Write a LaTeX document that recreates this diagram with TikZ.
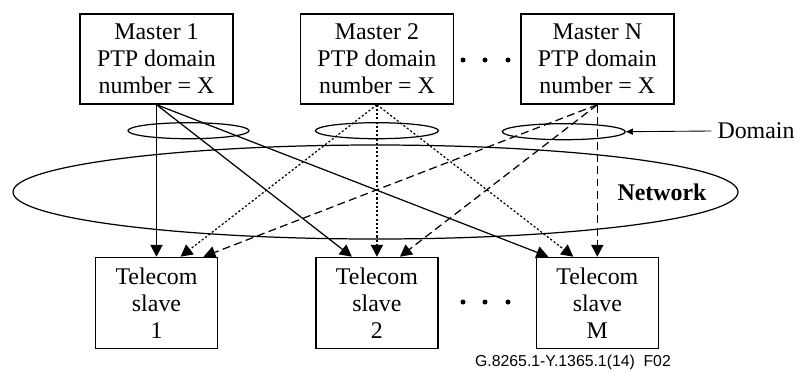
\documentclass[tikz,border=0pt]{standalone}
\usepackage{fontspec}
\setmainfont{Liberation Serif}
\newfontfamily\figfont{Liberation Sans}
\usetikzlibrary{shapes.geometric,positioning,arrows.meta}

\tikzset{
    box/.style={draw, line width=0.8pt, align=center, inner sep=0pt,
        font=\fontsize{13.6}{15.4}\selectfont},
    master/.style={box, minimum width=3.06cm, minimum height=1.8cm},
    slave/.style={box, minimum width=2.44cm, minimum height=1.82cm},
    domring/.style={draw, ellipse, line width=0.7pt, inner sep=0pt,
        minimum width=2.46cm, minimum height=0.32cm},
    link/.style={line width=0.7pt, -{Triangle[length=6.8pt,width=7pt]}},
    dotlink/.style={link, dash pattern=on 1.2pt off 1.2pt},
    dashlink/.style={link, dash pattern=on 4.5pt off 2.5pt},
    lbl/.style={font=\fontsize{13.6}{15.4}\selectfont}
}

\begin{document}
\begin{tikzpicture}
    \useasboundingbox (0,0) rectangle (15.96,-7.38);

    % masters and slaves
    \node[master] (m1) at (3.13,-1.18) {Master 1\\PTP domain\\number = X};
    \node[master, right=1.32cm of m1] (m2) {Master 2\\PTP domain\\number = X};
    \node[master, right=1.32cm of m2] (mN) {Master N\\PTP domain\\number = X};
    \node[slave, below=3.04cm of m1] (s1) {Telecom\\slave\\1};
    \node[slave, below=3.04cm of m2] (s2) {Telecom\\slave\\2};
    \node[slave, below=3.04cm of mN] (sM) {Telecom\\slave\\M};

    \foreach \x in {9.26,9.70,10.16} {
        \fill (\x,-1.2) circle (0.05);
        \fill (\x,-6.04) circle (0.05);
    }

    % domains and network
    \node[domring, minimum width=2.42cm] (d1) at ([xshift=0.64cm,yshift=-0.52cm]m1.south) {};
    \node[domring] (d2) at ([yshift=-0.52cm]m2.south) {};
    \node[domring] (dN) at ([xshift=-0.67cm,yshift=-0.54cm]mN.south) {};
    \node[draw, ellipse, line width=0.7pt, inner sep=0pt,
        minimum width=14.5cm, minimum height=1.88cm] (net) at (7.51,-3.84) {};
    \node[lbl, font=\fontsize{13.6}{15.4}\selectfont\bfseries] (netlbl) at (13.24,-3.84) {Network};
    \node[lbl] (domlbl) at (15.12,-2.62) {Domain};
    \draw[line width=0.5pt, -{Triangle[length=4pt,width=3.5pt]}] (domlbl.west) -- (dN.east);

    % links
    \draw[link] (m1.south) -- (s1.north);
    \draw[link] (m1.south) -- ([xshift=-0.5cm]s2.north);
    \draw[link] (m1.south) -- ([xshift=-0.98cm]sM.north);
    \draw[dotlink] (m2.south) -- ([xshift=0.48cm]s1.north);
    \draw[dotlink] (m2.south) -- (s2.north);
    \draw[dotlink] (m2.south) -- ([xshift=-0.48cm]sM.north);
    \draw[dashlink] (mN.south) -- ([xshift=0.94cm]s1.north);
    \draw[dashlink] (mN.south) -- ([xshift=0.46cm]s2.north);
    \draw[dashlink] (mN.south) -- (sM.north);

    \node[font=\figfont\fontsize{9}{10}\selectfont] (fig) at (11.46,-7.24) {G.8265.1-Y.1365.1(14)\hspace{0.55em}F02};
\end{tikzpicture}
\end{document}
